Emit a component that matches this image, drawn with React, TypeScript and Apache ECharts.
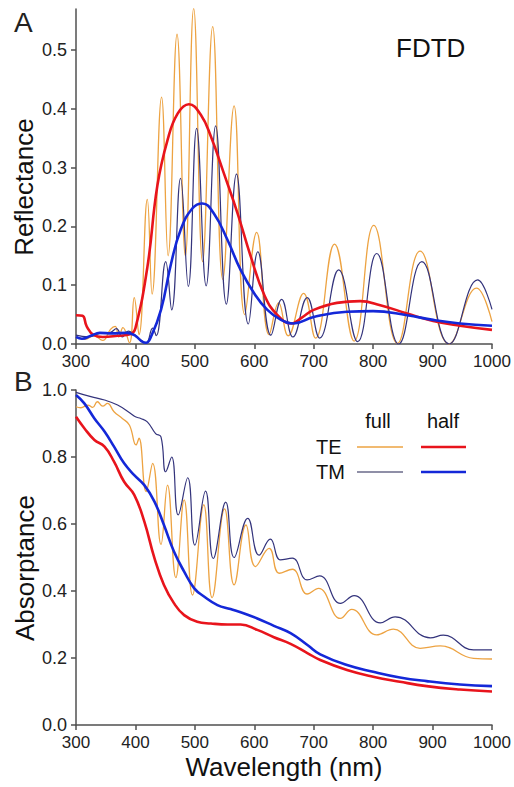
import React, { useEffect, useRef } from "react";
import * as echarts from "echarts";

// ---- Panel A: Reflectance (wavelength nm, value) ----
const reflTEfull: [number, number][] = [
  [300, 0.012], [315, 0.008], [330, 0.014], [345, 0.006], [358, 0.025], [366, 0.03], [372, 0.012],
  [379, 0.028], [390, 0.002], [398, 0.079], [406, 0.016], [420, 0.246], [428, 0.085], [444, 0.42],
  [455, 0.15], [470, 0.527], [484, 0.15], [498, 0.571], [513, 0.14], [530, 0.54], [547, 0.11],
  [566, 0.405], [584, 0.05], [604, 0.19], [625, 0.016], [641, 0.07], [657, 0.014], [683, 0.086],
  [703, 0.01], [735, 0.17], [768, 0.005], [801, 0.202], [841, 0.001], [879, 0.158], [928, 0],
  [974, 0.095], [1000, 0.038],
];
const reflTMfull: [number, number][] = [
  [300, 0.015], [320, 0.012], [340, 0.018], [358, 0.02], [368, 0.026], [378, 0.012], [388, 0.022],
  [398, 0.016], [410, 0.006], [418, 0.002], [429, 0.027], [435, 0.014], [451, 0.14], [461, 0.058],
  [476, 0.282], [489, 0.098], [503, 0.367], [519, 0.099], [535, 0.371], [553, 0.068], [570, 0.289],
  [590, 0.034], [606, 0.157], [628, 0.015], [646, 0.076], [665, 0.012], [689, 0.079], [710, 0.01],
  [742, 0.126], [774, 0.004], [806, 0.154], [843, 0], [882, 0.14], [928, 0], [976, 0.109],
  [1000, 0.059],
];
const reflTEhalf: [number, number][] = [
  [300, 0.049], [311, 0.048], [318, 0.03], [330, 0.015], [345, 0.012], [370, 0.014], [392, 0.017],
  [400, 0.027], [420, 0.13], [437, 0.27], [454, 0.347], [471, 0.392], [490, 0.408], [510, 0.39],
  [527, 0.353], [549, 0.29], [572, 0.222], [594, 0.149], [617, 0.083], [639, 0.049], [662, 0.035],
  [680, 0.045], [700, 0.058], [739, 0.07], [778, 0.073], [812, 0.066], [857, 0.052], [901, 0.039],
  [946, 0.031], [1000, 0.024],
];
const reflTMhalf: [number, number][] = [
  [300, 0.012], [310, 0.009], [325, 0.014], [340, 0.019], [360, 0.018], [385, 0.019], [400, 0.014],
  [410, 0.005], [418, 0.002], [426, 0.012], [443, 0.058], [460, 0.137], [476, 0.194], [496, 0.231],
  [513, 0.239], [532, 0.222], [555, 0.177], [577, 0.126], [600, 0.086], [622, 0.058], [645, 0.041],
  [666, 0.035], [700, 0.046], [756, 0.055], [800, 0.056], [857, 0.049], [901, 0.041], [946, 0.035],
  [1000, 0.031],
];

// ---- Panel B: Absorptance ----
const absTEfull: [number, number][] = [
  [300, 0.95], [308, 0.947], [320, 0.955], [328, 0.948], [336, 0.965], [345, 0.952], [353, 0.96],
  [364, 0.935], [378, 0.915], [390, 0.895], [401, 0.836], [406, 0.856], [418, 0.697], [429, 0.781],
  [443, 0.539], [454, 0.716], [468, 0.44], [482, 0.672], [496, 0.388], [515, 0.657], [529, 0.38],
  [550, 0.645], [566, 0.418], [586, 0.597], [602, 0.473], [625, 0.527], [642, 0.453], [664, 0.465],
  [689, 0.391], [708, 0.408], [745, 0.318], [764, 0.345], [806, 0.269], [834, 0.286], [879, 0.229],
  [913, 0.236], [969, 0.199], [1000, 0.197],
];
const absTMfull: [number, number][] = [
  [300, 0.993], [325, 0.98], [348, 0.97], [370, 0.955], [392, 0.93], [400, 0.92], [409, 0.915],
  [420, 0.905], [434, 0.87], [443, 0.86], [451, 0.756], [461, 0.8], [472, 0.627], [488, 0.738],
  [500, 0.537], [518, 0.698], [531, 0.497], [552, 0.665], [566, 0.5], [589, 0.617], [608, 0.507],
  [627, 0.555], [644, 0.493], [664, 0.498], [689, 0.433], [710, 0.445], [745, 0.363], [768, 0.386],
  [812, 0.305], [837, 0.323], [896, 0.26], [918, 0.268], [969, 0.224], [1000, 0.224],
];
const absTEhalf: [number, number][] = [
  [300, 0.92], [314, 0.886], [331, 0.851], [348, 0.831], [364, 0.786], [381, 0.726], [398, 0.687],
  [415, 0.607], [432, 0.498], [448, 0.418], [465, 0.363], [482, 0.328], [504, 0.308], [527, 0.303],
  [555, 0.3], [577, 0.3], [605, 0.284], [633, 0.262], [661, 0.242], [690, 0.214], [711, 0.194],
  [756, 0.164], [800, 0.144], [845, 0.129], [890, 0.116], [946, 0.106], [1000, 0.1],
];
const absTMhalf: [number, number][] = [
  [300, 0.985], [314, 0.96], [331, 0.915], [348, 0.876], [364, 0.831], [381, 0.781], [398, 0.746],
  [415, 0.716], [432, 0.667], [448, 0.597], [465, 0.517], [482, 0.458], [499, 0.408], [516, 0.383],
  [538, 0.358], [560, 0.346], [583, 0.333], [605, 0.318], [633, 0.296], [661, 0.274], [690, 0.238],
  [711, 0.211], [756, 0.179], [800, 0.159], [845, 0.142], [890, 0.131], [946, 0.121], [1000, 0.116],
];

const reflTicks = [0, 0.1, 0.2, 0.3, 0.4, 0.5];
const absTicks = [0, 0.2, 0.4, 0.6, 0.8, 1.0];

const FONT = "Liberation Sans, Arial, Helvetica, sans-serif";
const AXIS_COLOR = "#505050";
const C_TE_FULL = "#eda342";
const C_TM_FULL = "#34347c";
const C_TE_HALF = "#e8141c";
const C_TM_HALF = "#1428d8";

export default function App() {
  const ref = useRef<HTMLDivElement>(null);
  useEffect(() => {
    document.body.style.margin = "0";
    if (!ref.current) return;
    const chart = echarts.init(ref.current, undefined, { renderer: "svg" });

    const xAxisBase = (gridIndex: number, withName: boolean) => ({
      type: "value",
      gridIndex,
      min: 300,
      max: 1000,
      interval: 100,
      axisLine: { show: true, lineStyle: { color: AXIS_COLOR, width: 1.5 } },
      axisTick: { show: true, length: 5, lineStyle: { color: AXIS_COLOR, width: 1.5 } },
      axisLabel: {
        color: "#222",
        fontSize: 17,
        fontFamily: FONT,
        margin: 9,
        formatter: (v: number) => String(v),
      },
      splitLine: { show: false },
      name: withName ? "Wavelength (nm)" : "",
      nameLocation: "middle",
      nameGap: 29,
      nameTextStyle: { color: "#111", fontSize: 26, fontFamily: FONT },
    });
    const yAxisBase = (gridIndex: number, max: number, ticks: number[]) => ({
      type: "value",
      gridIndex,
      min: 0,
      max,
      axisLine: { show: true, lineStyle: { color: AXIS_COLOR, width: 1.5 } },
      axisTick: {
        show: true,
        length: 5,
        customValues: ticks,
        lineStyle: { color: AXIS_COLOR, width: 1.5 },
      },
      axisLabel: {
        color: "#222",
        fontSize: 18,
        fontFamily: FONT,
        margin: 9,
        customValues: ticks,
        formatter: (v: number) => v.toFixed(1),
      },
      splitLine: { show: false },
    });

    const line = (
      name: string,
      data: [number, number][],
      color: string,
      width: number,
      idx: number,
      z: number
    ) => ({
      name,
      type: "line",
      xAxisIndex: idx,
      yAxisIndex: idx,
      data,
      smooth: 0.45,
      showSymbol: false,
      symbol: "none",
      z,
      lineStyle: { color, width },
      itemStyle: { color },
    });

    const legendText = (text: string, x: number, y: number, align: string) => ({
      type: "text",
      x,
      y,
      style: {
        text,
        fill: "#111",
        font: `20px ${FONT}`,
        textAlign: align,
        textVerticalAlign: "middle",
      },
    });
    const legendLine = (x1: number, x2: number, y: number, color: string, width: number) => ({
      type: "line",
      shape: { x1, y1: y, x2, y2: y },
      style: { stroke: color, lineWidth: width },
    });
    const vTitle = (text: string, x: number, y: number) => ({
      type: "text",
      x,
      y,
      rotation: Math.PI / 2,
      style: {
        text,
        fill: "#111",
        font: `26px ${FONT}`,
        textAlign: "center",
        textVerticalAlign: "middle",
      },
    });

    chart.setOption({
      animation: false,
      backgroundColor: "#ffffff",
      grid: [
        { left: 76, top: 9, width: 416, height: 335 },
        { left: 76, top: 390, width: 416, height: 335 },
      ],
      xAxis: [xAxisBase(0, false), xAxisBase(1, true)],
      yAxis: [yAxisBase(0, 0.57, reflTicks), yAxisBase(1, 1.0, absTicks)],
      series: [
        line("TE full", reflTEfull, C_TE_FULL, 1.3, 0, 2),
        line("TM full", reflTMfull, C_TM_FULL, 1.2, 0, 3),
        line("TE half", reflTEhalf, C_TE_HALF, 2.6, 0, 4),
        line("TM half", reflTMhalf, C_TM_HALF, 2.6, 0, 5),
        line("TE full", absTEfull, C_TE_FULL, 1.3, 1, 2),
        line("TM full", absTMfull, C_TM_FULL, 1.2, 1, 3),
        line("TE half", absTEhalf, C_TE_HALF, 2.6, 1, 4),
        line("TM half", absTMhalf, C_TM_HALF, 2.6, 1, 5),
      ],
      graphic: [
        { type: "text", x: 14, y: 8, style: { text: "A", fill: "#222", font: `28px ${FONT}` } },
        { type: "text", x: 14, y: 367, style: { text: "B", fill: "#222", font: `28px ${FONT}` } },
        { type: "text", x: 396, y: 35, style: { text: "FDTD", fill: "#111", font: `26px ${FONT}` } },
        vTitle("Reflectance", 24, 187),
        vTitle("Absorptance", 25, 568),
        legendText("full", 378, 421, "center"),
        legendText("half", 443, 421, "center"),
        legendText("TE", 316, 447, "left"),
        legendText("TM", 316, 472, "left"),
        legendLine(357, 403, 447, C_TE_FULL, 1.6),
        legendLine(421, 466, 447, C_TE_HALF, 2.6),
        legendLine(357, 403, 472, "#6a6a8a", 1.6),
        legendLine(421, 466, 472, C_TM_HALF, 2.6),
      ],
    });
    return () => chart.dispose();
  }, []);
  return <div ref={ref} style={{ width: 514, height: 787 }} />;
}
